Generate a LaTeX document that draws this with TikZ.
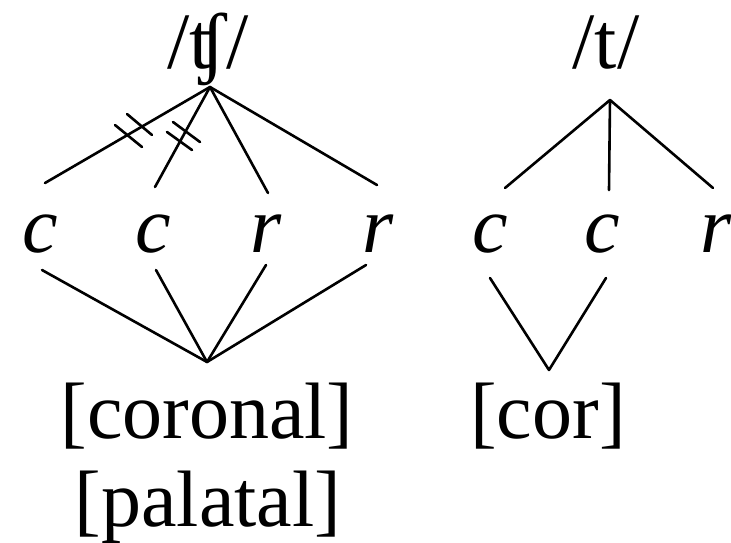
\documentclass[tikz,border=0pt]{standalone}
\usepackage{fontspec}
\setmainfont{Liberation Serif}
\begin{document}
\begin{tikzpicture}[x=1pt,y=-1pt,
  lbl/.style={anchor=base,inner sep=0pt,font=\fontsize{80}{96}\selectfont},
  seg/.style={anchor=base,inner sep=0pt,font=\fontsize{80}{96}\selectfont\itshape},
  ln/.style={line width=2.6pt,line cap=round}]
\useasboundingbox (0,0) rectangle (731,542);
% top labels
\node[lbl] (tsh) at (208,68) {/ʧ/};
\node[lbl] (t) at (606,68) {/t/};
% segment labels
\node[seg] (c1) at (40,252) {c};
\node[seg] (c2) at (153,252) {c};
\node[seg] (r1) at (266,252) {r};
\node[seg] (r2) at (378,252) {r};
\node[seg] (c3) at (490,252) {c};
\node[seg] (c4) at (602,252) {c};
\node[seg] (r3) at (716,252) {r};
% features
\node[lbl] (cor1) at (207,438) {[coronal]};
\node[lbl] (pal) at (208,526) {[palatal]};
\node[lbl] (cor2) at (548,438) {[cor]};
% junction points
\coordinate (A) at (210,87);
\coordinate (B) at (610,100);
\coordinate (P) at (207,362);
\coordinate (Q) at (549,370);
% ends
\coordinate (a1) at (45,183);
\coordinate (a2) at (155,187);
\coordinate (a3) at (268,193);
\coordinate (a4) at (377,185);
\coordinate (b1) at (505,188);
\coordinate (b2) at (609,190);
\coordinate (b3) at (713,188);
\coordinate (p1) at (42,270);
\coordinate (p2) at (156,270);
\coordinate (p3) at (266,265);
\coordinate (p4) at (366,265);
\coordinate (q1) at (490,278);
\coordinate (q2) at (606,278);
% lines
\draw[ln] (A) -- (a1);
\draw[ln] (A) -- (a2);
\draw[ln] (A) -- (a3);
\draw[ln] (A) -- (a4);
\draw[ln] (B) -- (b1);
\draw[ln] (B) -- (b2);
\draw[ln] (B) -- (b3);
\draw[ln] (P) -- (p1);
\draw[ln] (P) -- (p2);
\draw[ln] (P) -- (p3);
\draw[ln] (P) -- (p4);
\draw[ln] (Q) -- (q1);
\draw[ln] (Q) -- (q2);
% delinking marks
\coordinate (h1a) at (115,125); \coordinate (h1b) at (142,147);
\coordinate (h2a) at (127,114); \coordinate (h2b) at (152,135);
\coordinate (h3a) at (167,132); \coordinate (h3b) at (192,150);
\coordinate (h4a) at (173,122); \coordinate (h4b) at (200,142);
\draw[ln] (h1a) -- (h1b);
\draw[ln] (h2a) -- (h2b);
\draw[ln] (h3a) -- (h3b);
\draw[ln] (h4a) -- (h4b);
\end{tikzpicture}
\end{document}
